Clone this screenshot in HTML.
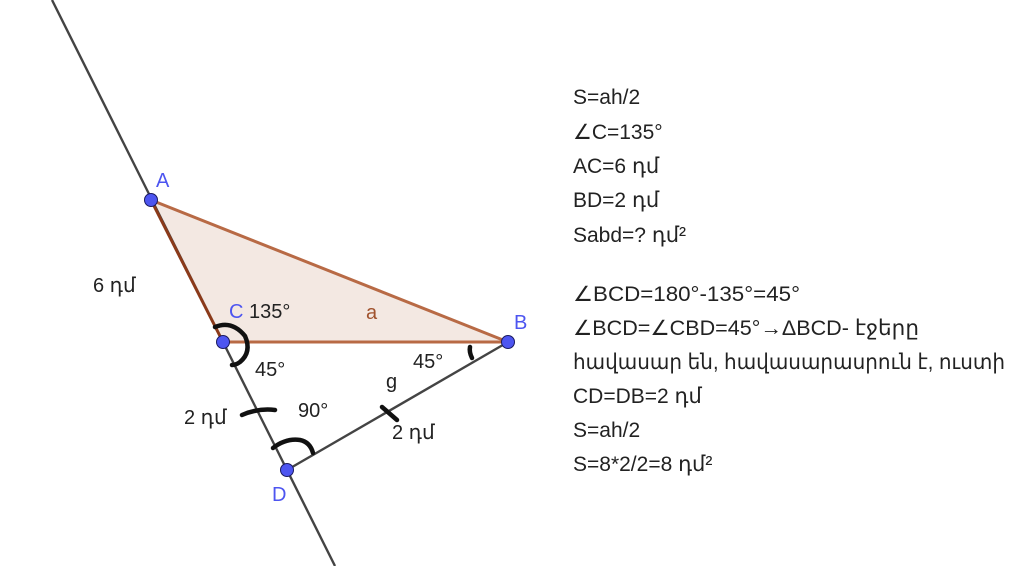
<!DOCTYPE html>
<html><head><meta charset="utf-8"><style>
html,body{margin:0;padding:0;background:#fff;width:1023px;height:566px;overflow:hidden}
svg text{font-family:"Liberation Sans","DejaVu Sans",sans-serif}
</style></head><body>
<svg width="1023" height="566" viewBox="0 0 1023 566" xmlns="http://www.w3.org/2000/svg">
<polygon points="151,200 223,342 508,342" fill="#f3e8e2"/>
<line x1="52" y1="0" x2="335" y2="566" stroke="#444" stroke-width="2.4"/>
<line x1="287" y1="470" x2="508" y2="342" stroke="#444" stroke-width="2.4"/>
<line x1="151" y1="200" x2="508" y2="342" stroke="#b86a45" stroke-width="3"/>
<line x1="223" y1="342" x2="508" y2="342" stroke="#b86a45" stroke-width="3"/>
<line x1="151" y1="200" x2="223" y2="342" stroke="#8b3a1a" stroke-width="3"/>
<g fill="none" stroke="#111" stroke-width="4.5" stroke-linecap="round">
<path d="M215,327 Q232,320 245,336 Q252,352 240,362 Q236,365 232,365"/>
<path d="M273,448 Q286,438 300,440 Q310,442 313,453"/>
<path d="M242,415 Q258,408 275,410"/>
<path d="M382,407 L397,420"/>
<path d="M470,347 Q469,352 472,358"/>
</g>
<g fill="#4d55f0" stroke="#1a1a60" stroke-width="1">
<circle cx="151" cy="200" r="6.5"/>
<circle cx="223" cy="342" r="6.5"/>
<circle cx="508" cy="342" r="6.5"/>
<circle cx="287" cy="470" r="6.5"/>
</g>
<g font-size="20" fill="#4d55f0">
<text x="156" y="187">A</text>
<text x="229" y="318">C</text>
<text x="514" y="329">B</text>
<text x="272" y="501">D</text>
</g>
<g font-size="20" fill="#222">
<text x="93" y="292">6 դմ</text>
<text x="249" y="318">135°</text>
<text x="255" y="376">45°</text>
<text x="413" y="368">45°</text>
<text x="386" y="388">g</text>
<text x="298" y="417">90°</text>
<text x="184" y="424">2 դմ</text>
<text x="392" y="439">2 դմ</text>
</g>
<text x="366" y="319" font-size="20" fill="#a0522d">a</text>
<g font-size="21" fill="#222">
<text x="573" y="104">S=ah/2</text>
<text x="573" y="139">∠C=135°</text>
<text x="573" y="173">AC=6 դմ</text>
<text x="573" y="207">BD=2 դմ</text>
<text x="573" y="242">Sabd=? դմ²</text>
<text x="573" y="301" textLength="227" lengthAdjust="spacingAndGlyphs">∠BCD=180°-135°=45°</text>
<text x="573" y="335" textLength="346" lengthAdjust="spacingAndGlyphs">∠BCD=∠CBD=45°→ΔBCD- էջերը</text>
<text x="573" y="369" textLength="432" lengthAdjust="spacingAndGlyphs">հավասար են, հավասարասրուն է, ուստի</text>
<text x="573" y="403">CD=DB=2 դմ</text>
<text x="573" y="437">S=ah/2</text>
<text x="573" y="471">S=8*2/2=8 դմ²</text>
</g>
</svg>
</body></html>
